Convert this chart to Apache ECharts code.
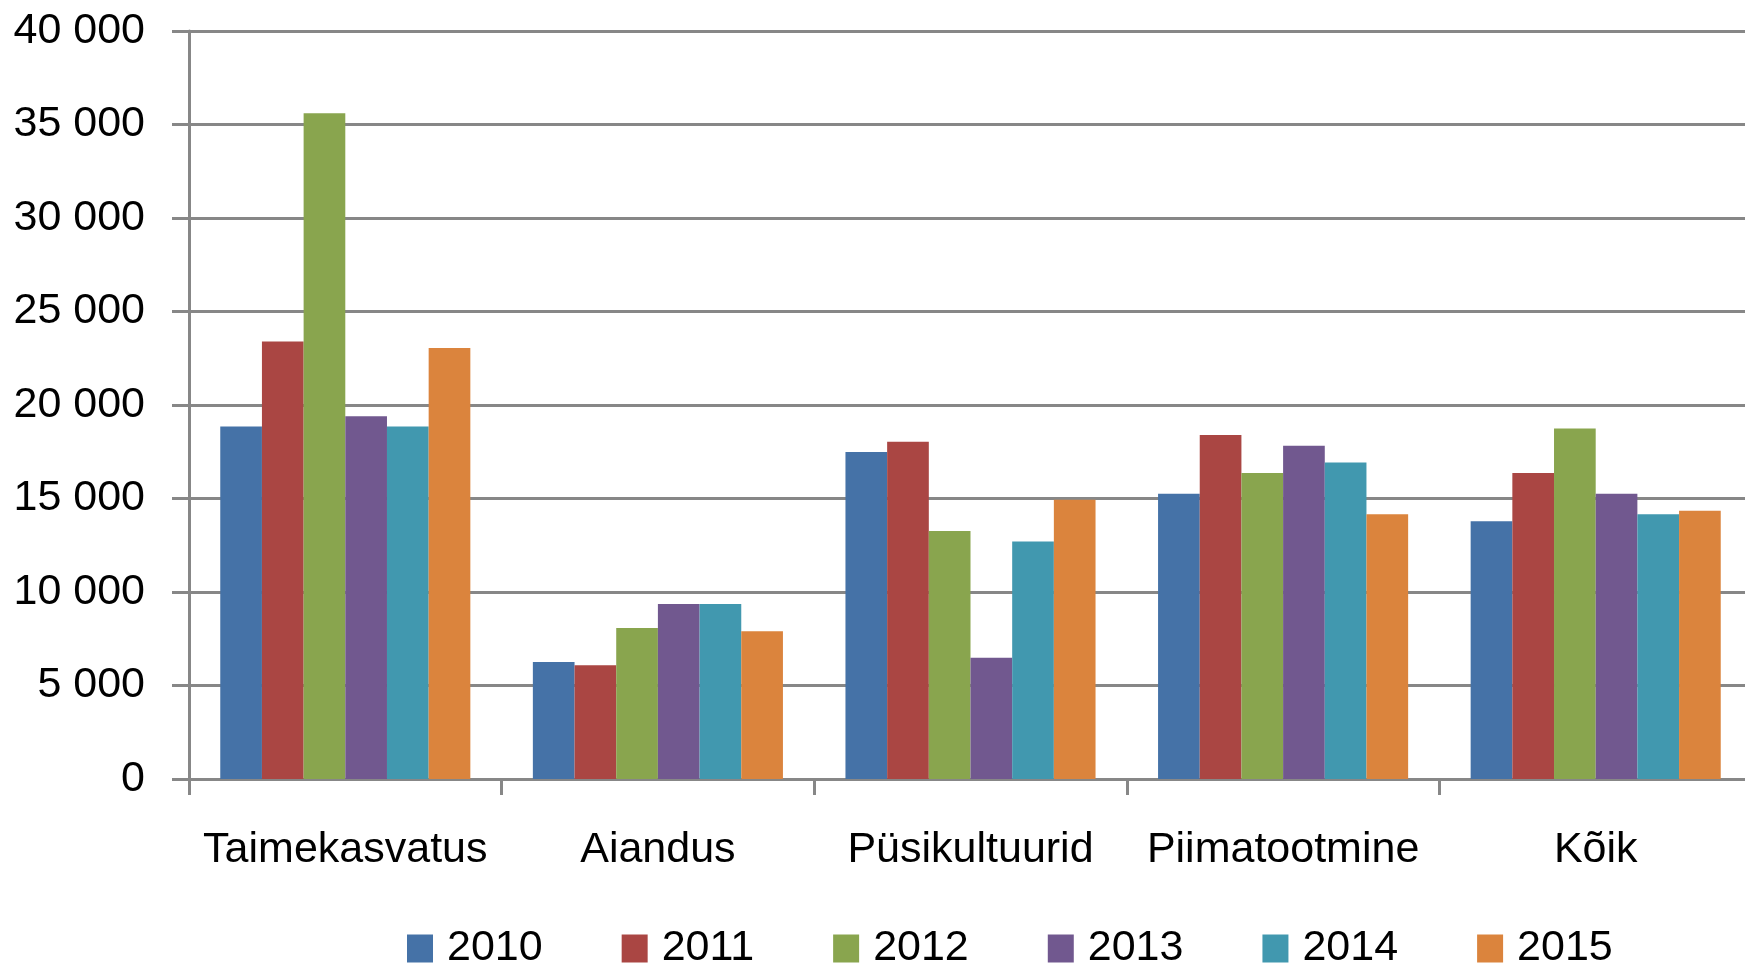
<!DOCTYPE html>
<html>
<head>
    <meta charset="utf-8" />
    <title>Taimekasvatus</title>
    <script src="https://cdn.jsdelivr.net/npm/echarts@6/dist/echarts.min.js"></script>
    <style>
        html, body { margin: 0; padding: 0; background: #fff; }
        #chart { width: 1745px; height: 968px; }
    </style>
</head>
<body>
    <div id="chart"></div>
    <script>
        // andmed
        var categories = ["Taimekasvatus", "Aiandus", "Püsikultuurid", "Piimatootmine", "Kõik"];
        var years = ["2010", "2011", "2012", "2013", "2014", "2015"];
        var v2010 = [18850, 6260, 17490, 15250, 13780];
        var v2011 = [23400, 6080, 18030, 18390, 16360];
        var v2012 = [35600, 8070, 13260, 16360, 18750];
        var v2013 = [19400, 9360, 6480, 17820, 15250];
        var v2014 = [18850, 9360, 12700, 16920, 14160];
        var v2015 = [23050, 7900, 14930, 14160, 14340];
        var colors = ["#4572A7", "#AA4643", "#89A54E", "#71588F", "#4198AF", "#DB843D"];

        var values = [v2010, v2011, v2012, v2013, v2014, v2015];
        var font = "'Liberation Sans', Arial, sans-serif";
        var gray = "#878787";

        var chart = echarts.init(document.getElementById('chart'));
        var series = [];
        for (var i = 0; i < years.length; i++) {
            series.push({
                name: years[i],
                type: 'bar',
                data: values[i],
                barGap: '0%',
                barCategoryGap: '20%',
                itemStyle: { color: colors[i] }
            });
        }

        chart.setOption({
            animation: false,
            color: colors,
            grid: { left: 189, top: 31, width: 1563, height: 748, outerBoundsMode: 'none' },
            legend: {
                data: years,
                left: 407,
                top: 927,
                padding: 0,
                itemWidth: 26,
                itemHeight: 28,
                itemGap: 79,
                icon: 'rect',
                textStyle: { fontFamily: font, fontSize: 43, lineHeight: 28, color: '#000', padding: [0, 0, 0, 9] }
            },
            xAxis: {
                type: 'category',
                data: categories,
                axisLine: { lineStyle: { color: gray, width: 3 } },
                axisTick: { show: true, interval: 0, length: 16, lineStyle: { color: gray, width: 3 } },
                axisLabel: { interval: 0, fontFamily: font, fontSize: 43, color: '#000', margin: 50 },
                splitLine: { show: false }
            },
            yAxis: {
                type: 'value',
                min: 0,
                max: 40000,
                interval: 5000,
                axisLine: { show: true, lineStyle: { color: gray, width: 3 } },
                axisTick: { show: true, length: 17, lineStyle: { color: gray, width: 3 } },
                axisLabel: {
                    fontFamily: font, fontSize: 43, color: '#000', margin: 44,
                    formatter: function (v) {
                        return String(v).replace(/\B(?=(\d{3})+(?!\d))/g, ' ');
                    }
                },
                splitLine: { lineStyle: { color: gray, width: 3 } }
            },
            series: series
        });
    </script>
</body>
</html>
